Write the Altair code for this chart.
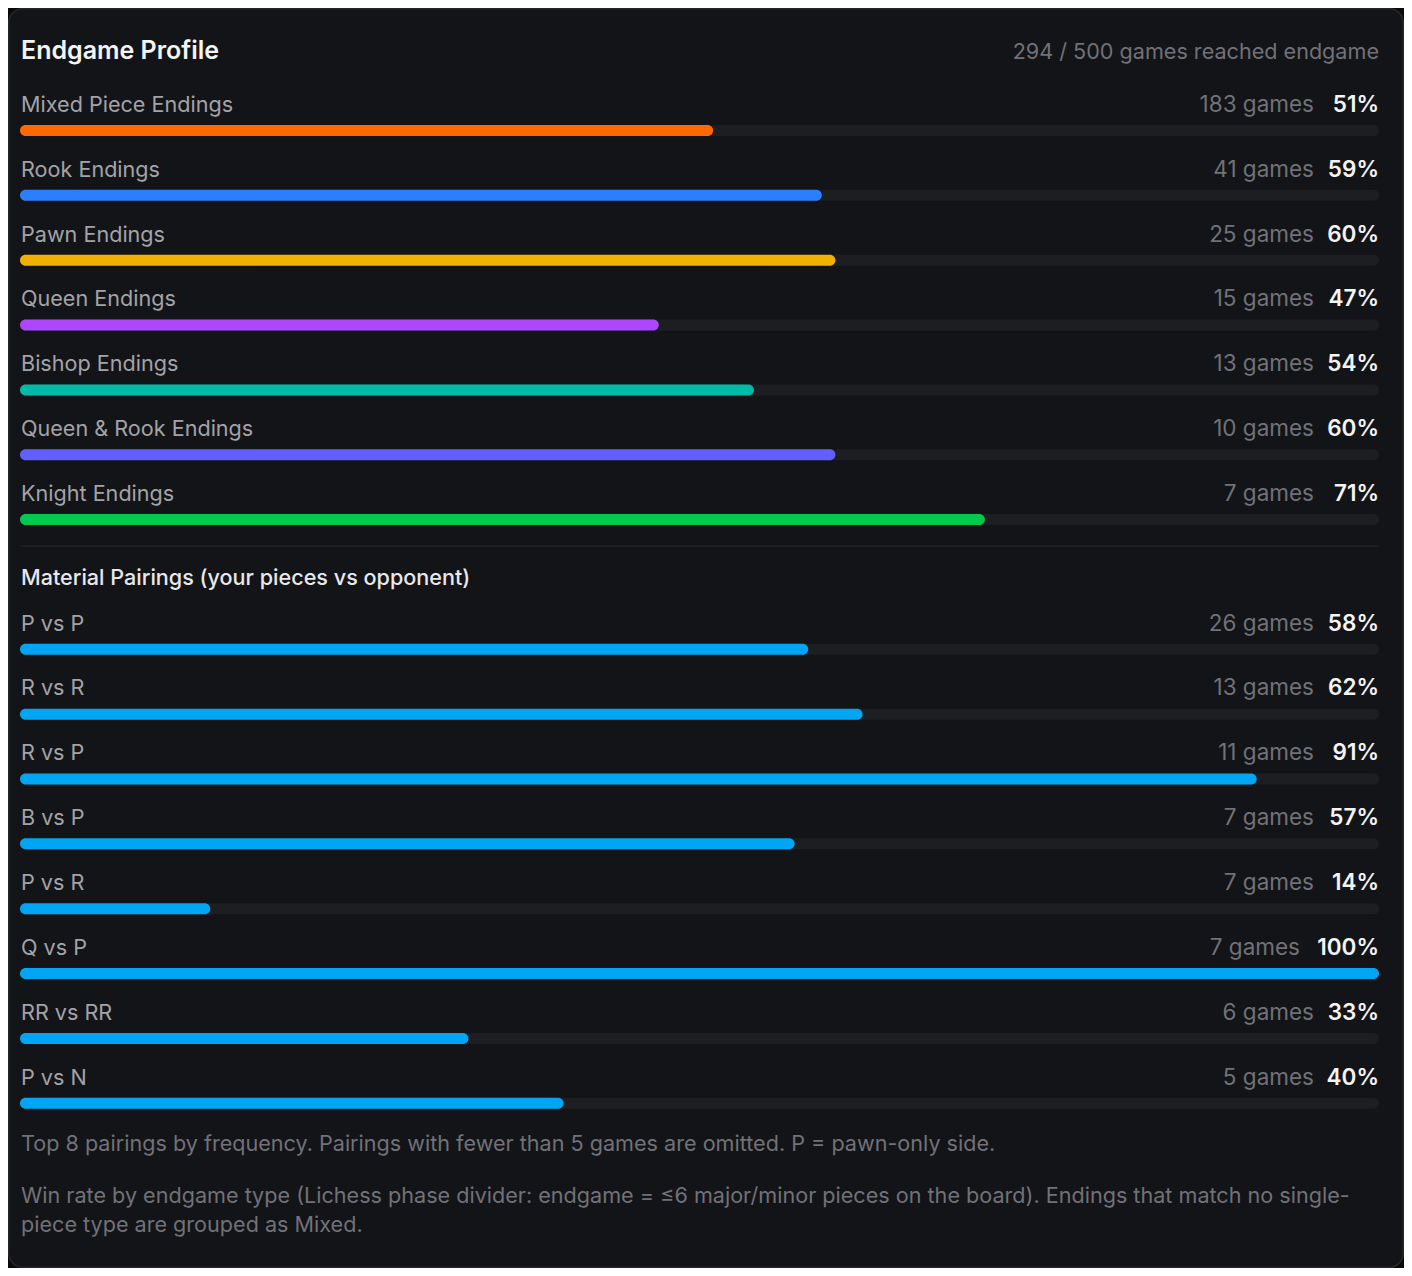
import altair as alt
import pandas as pd

# Endgame types (win rate by type)
ENDINGS = ["Mixed Piece Endings", "Rook Endings", "Pawn Endings", "Queen Endings",
           "Bishop Endings", "Queen & Rook Endings", "Knight Endings"]
ENDING_GAMES = [183, 41, 25, 15, 13, 10, 7]
ENDING_WIN = [51, 59, 60, 47, 54, 60, 71]

# Material pairings (your pieces vs opponent)
PAIRINGS = ["P vs P", "R vs R", "R vs P", "B vs P", "P vs R", "Q vs P", "RR vs RR", "P vs N"]
PAIRING_GAMES = [26, 13, 11, 7, 7, 7, 6, 5]
PAIRING_WIN = [58, 62, 91, 57, 14, 100, 33, 40]

REACHED = 294
TOTAL = 500

TITLE = "Endgame Profile"
SECTION = "Material Pairings (your pieces vs opponent)"
NOTE_1 = "Top 8 pairings by frequency. Pairings with fewer than 5 games are omitted. P = pawn-only side."
NOTE_2 = ["Win rate by endgame type (Lichess phase divider: endgame = \u22646 major/minor pieces on the board). Endings that match no single-",
          "piece type are grouped as Mixed."]

# styles
ENDING_COLORS = ["#ff6900", "#2b7fff", "#f0b100", "#ad46ff", "#00bba7", "#615fff", "#00c950"]
PAIRING_COLOR = "#00a6f4"
BG = "#0a0a0b"
CARD = "#131417"
TRACK = "#1d1e22"
LABEL = "#a3a3a8"
MUTED = "#717177"
BRIGHT = "#f4f4f5"
FONT = "Inter"

W, H = 1396, 1260
ROW_PITCH = 64.85
FIRST_ROW = 96  # centre of first row label, chart pixels

rows = []
for i, (name, g, w) in enumerate(zip(ENDINGS, ENDING_GAMES, ENDING_WIN)):
    rows.append({"slot": i, "label": name, "games": g, "win": w, "series": name})
for i, (name, g, w) in enumerate(zip(PAIRINGS, PAIRING_GAMES, PAIRING_WIN)):
    rows.append({"slot": len(ENDINGS) + 1 + i, "label": name, "games": g, "win": w, "series": "pairing"})
df = pd.DataFrame(rows)
df["games_text"] = df["games"].astype(str) + " games"
df["win_text"] = df["win"].astype(str) + "%"
df["zero"] = 0
df["full"] = 100

x_scale = alt.Scale(domain=[0, 100], range=[12, 1371], nice=False, zero=False, padding=0)
y_scale = alt.Scale(domain=[-FIRST_ROW / ROW_PITCH, (H - FIRST_ROW) / ROW_PITCH],
                    range=[0, H], nice=False, zero=False, padding=0)
color_scale = alt.Scale(domain=ENDINGS + ["pairing"], range=ENDING_COLORS + [PAIRING_COLOR])

base = alt.Chart(df).encode(y=alt.Y("slot:Q", scale=y_scale, axis=None))

track = base.mark_bar(size=11, cornerRadius=5.5, color=TRACK, yOffset=26.5).encode(
    x=alt.X("zero:Q", scale=x_scale, axis=None), x2="full:Q")
bars = base.mark_bar(size=11, cornerRadius=5.5, yOffset=26.5).encode(
    x=alt.X("zero:Q", scale=x_scale, axis=None), x2="win:Q",
    color=alt.Color("series:N", scale=color_scale, legend=None))

labels = base.mark_text(align="left", baseline="alphabetic", fontSize=21.6, color=LABEL, yOffset=7.8, dx=1).encode(
    x=alt.X("zero:Q", scale=x_scale, axis=None), text="label:N")
win_text = base.mark_text(align="right", baseline="alphabetic", fontSize=22.5, fontWeight=600,
                          color=BRIGHT, yOffset=7.8).encode(
    x=alt.X("full:Q", scale=x_scale, axis=None), text="win_text:N")
games_text = base.mark_text(align="right", baseline="alphabetic", fontSize=22.5, color=MUTED,
                            yOffset=7.8, dx=-65).encode(
    x=alt.X("full:Q", scale=x_scale, axis=None), text="games_text:N").transform_filter("datum.win < 100")
games_text_wide = base.mark_text(align="right", baseline="alphabetic", fontSize=22.5, color=MUTED,
                                 yOffset=7.8, dx=-79).encode(
    x=alt.X("full:Q", scale=x_scale, axis=None), text="games_text:N").transform_filter("datum.win >= 100")


def static_text(text, x, y, **kw):
    return alt.Chart(pd.DataFrame({"t": [0]})).mark_text(
        text=text, baseline="alphabetic", **kw).encode(x=alt.value(x), y=alt.value(y))


card = alt.Chart(pd.DataFrame({"t": [0]})).mark_rect(
    fill=CARD, stroke="#26272b", strokeWidth=1.5, cornerRadius=14).encode(
    x=alt.value(0.75), x2=alt.value(W - 0.75), y=alt.value(0.75), y2=alt.value(H - 0.75))
divider = alt.Chart(pd.DataFrame({"t": [0]})).mark_rule(color="#26272a", strokeWidth=1.2).encode(
    x=alt.value(12), x2=alt.value(1371), y=alt.value(538))

title = static_text(TITLE, 13, 50.5, align="left", fontSize=25, fontWeight=600, color=BRIGHT)
reached = static_text(f"{REACHED} / {TOTAL} games reached endgame", 1371, 51,
                      align="right", fontSize=21.6, color=MUTED)
section = static_text(SECTION, 13, 577, align="left", fontSize=21.6, fontWeight=500, color="#e8e8ea")
note1 = static_text(NOTE_1, 13, 1143, align="left", fontSize=21.6, color=MUTED)
note2 = static_text(NOTE_2, 13, 1195, align="left", fontSize=21.6, color=MUTED, lineHeight=29)

chart = alt.layer(
    card, divider, track, bars, labels, games_text, games_text_wide, win_text,
    title, reached, section, note1, note2
).properties(
    width=W, height=H, background=BG, padding=0,
    autosize=alt.AutoSizeParams(type="none")
).configure_view(strokeWidth=0).configure_text(font=FONT)

chart.save("out.html", embed_options={"renderer": "svg", "actions": False})
